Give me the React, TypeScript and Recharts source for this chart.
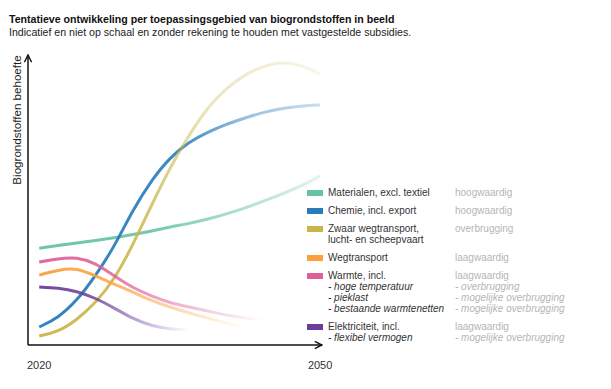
import { LineChart, Line, XAxis, YAxis } from 'recharts';

// x positions (years) shared by all curves
const years = [2020, 2022, 2024, 2026, 2028, 2030, 2032, 2034, 2036, 2038, 2040, 2042, 2044, 2046, 2048, 2050];

// relative demand (0 = x-axis, 100 = arrow tip)
const materialen = [33.4, 34.3, 35.2, 36.0, 36.9, 38.1, 39.3, 40.7, 41.9, 43.4, 45.2, 47.2, 49.7, 52.1, 54.8, 58.3];
const chemie = [6.2, 9.3, 15.2, 23.8, 33.8, 46.6, 56.9, 64.8, 70.0, 73.4, 76.2, 78.3, 80.3, 81.7, 82.4, 82.8];
const zwaarTransport = [3.1, 4.5, 8.6, 14.5, 22.4, 34.5, 48.3, 61.4, 72.4, 82.1, 88.6, 93.4, 96.2, 97.6, 96.6, 93.4];
const wegtransport = [24.1, 25.9, 26.6, 23.8, 21.0, 18.3, 15.2, 13.1, 11.0, 9.3, 7.6, 5.9, null, null, null, null];
const warmte = [28.6, 29.8, 30.3, 28.3, 23.8, 19.7, 16.9, 14.5, 13.1, 11.7, 10.3, 9.3, 8.6, null, null, null];
const elektriciteit = [20.0, 19.7, 18.6, 16.2, 12.8, 9.0, 6.6, 5.5, 5.2, null, null, null, null, null, null, null];

const xTicks = [2020, 2050];

const data = years.map((year, i) => ({
  year,
  materialen: materialen[i],
  chemie: chemie[i],
  zwaarTransport: zwaarTransport[i],
  wegtransport: wegtransport[i],
  warmte: warmte[i],
  elektriciteit: elektriciteit[i],
}));

// each curve fades out to the right: [offset, opacity] stops
const SERIES = [
  { key: 'materialen', color: '#66c2a5', fade: [[0, 0.95], [0.4, 0.9], [1, 0.18]] },
  { key: 'chemie', color: '#2b7bba', fade: [[0, 0.95], [0.5, 0.9], [0.75, 0.45], [1, 0.25]] },
  { key: 'zwaarTransport', color: '#c8b548', fade: [[0, 0.95], [0.35, 0.85], [0.6, 0.35], [1, 0.12]] },
  { key: 'wegtransport', color: '#fc9f40', fade: [[0, 0.95], [0.3, 0.85], [1, 0]] },
  { key: 'warmte', color: '#dd5e98', fade: [[0, 0.95], [0.3, 0.85], [1, 0]] },
  { key: 'elektriciteit', color: '#6a3d9a', fade: [[0, 0.95], [0.35, 0.85], [1, 0]] },
];

const LEGEND = [
  { color: '#66c2a5', lines: [['Materialen, excl. textiel', 'hoogwaardig']] },
  { color: '#2b7bba', lines: [['Chemie, incl. export', 'hoogwaardig']] },
  { color: '#c8b548', lines: [['Zwaar wegtransport,', 'overbrugging'], ['lucht- en scheepvaart', '']] },
  { color: '#fc9f40', lines: [['Wegtransport', 'laagwaardig']] },
  {
    color: '#dd5e98',
    lines: [
      ['Warmte, incl.', 'laagwaardig'],
      ['- hoge temperatuur', '- overbrugging'],
      ['- pieklast', '- mogelijke overbrugging'],
      ['- bestaande warmtenetten', '- mogelijke overbrugging'],
    ],
  },
  { color: '#6a3d9a', lines: [['Elektriciteit, incl.', 'laagwaardig'], ['- flexibel vermogen', '- mogelijke overbrugging']] },
];

const FONT = '"Liberation Sans", Arial, sans-serif';

function ChartLegend() {
  return (
    <div style={{ position: 'absolute', left: 307, top: 187, fontFamily: FONT, fontSize: 10, lineHeight: '11px' }}>
      {LEGEND.map((item, i) => (
        <div key={i} style={{ marginBottom: 7 }}>
          {item.lines.map(([label, quality], j) => {
            const sub = label.startsWith('- ');
            return (
              <div key={j} style={{ display: 'flex', height: 11, alignItems: 'center' }}>
                <div style={{ width: 16, height: 6, background: j === 0 ? item.color : 'transparent', marginRight: 5 }} />
                <div style={{ width: 127, color: '#333', fontStyle: sub ? 'italic' : 'normal', whiteSpace: 'nowrap' }}>{label}</div>
                <div style={{ color: '#b5b5b5', fontStyle: sub ? 'italic' : 'normal', whiteSpace: 'nowrap' }}>{quality}</div>
              </div>
            );
          })}
        </div>
      ))}
    </div>
  );
}

export default function App() {
  return (
    <div style={{ position: 'absolute', left: 0, top: 0, width: 611, height: 389, background: '#fff', fontFamily: FONT }}>
      <div style={{ position: 'absolute', left: 9, top: 13, fontSize: 10.6, fontWeight: 'bold', color: '#111', whiteSpace: 'nowrap' }}>
        Tentatieve ontwikkeling per toepassingsgebied van biogrondstoffen in beeld
      </div>
      <div style={{ position: 'absolute', left: 9, top: 26, fontSize: 10.6, color: '#222', whiteSpace: 'nowrap' }}>
        Indicatief en niet op schaal en zonder rekening te houden met vastgestelde subsidies.
      </div>
      <div
        style={{
          position: 'absolute', left: 16, top: 120, fontSize: 11.6, color: '#222', whiteSpace: 'nowrap',
          transform: 'translate(-50%, -50%) rotate(-90deg)',
        }}
      >
        Biogrondstoffen behoefte
      </div>

      <LineChart width={611} height={389} data={data} margin={{ top: 55, right: 289, bottom: 14, left: 27 }}>
        <defs>
          <marker id="arrowHead" viewBox="0 0 10 10" refX="9" refY="5" markerWidth="9" markerHeight="9"
            markerUnits="userSpaceOnUse" orient="auto-start-reverse">
            <path d="M1,1 L9,5 L1,9" fill="none" stroke="#111" strokeWidth="1.6" />
          </marker>
          {SERIES.map(s => (
            <linearGradient key={s.key} id={`fade-${s.key}`} x1="0" y1="0" x2="1" y2="0">
              {s.fade.map(([o, a], i) => (
                <stop key={i} offset={o} stopColor={s.color} stopOpacity={a} />
              ))}
            </linearGradient>
          ))}
        </defs>
        <XAxis
          dataKey="year"
          type="number"
          domain={[2018.8, 2050.2]}
          ticks={xTicks}
          allowDataOverflow
          height={30}
          tickLine={false}
          tickSize={0}
          tickMargin={16}
          tick={{ fontSize: 11, fill: '#333', fontFamily: FONT }}
          axisLine={{ stroke: '#111', strokeWidth: 1.5, markerEnd: 'url(#arrowHead)' }}
        />
        <YAxis
          domain={[0, 100]}
          width={1}
          tick={false}
          tickLine={false}
          axisLine={{ stroke: '#111', strokeWidth: 1.5, markerStart: 'url(#arrowHead)' }}
        />
        {SERIES.map(s => (
          <Line
            key={s.key}
            dataKey={s.key}
            type="basis"
            stroke={`url(#fade-${s.key})`}
            strokeWidth={3}
            dot={false}
            activeDot={false}
            isAnimationActive={false}
          />
        ))}
      </LineChart>

      <ChartLegend />
    </div>
  );
}
